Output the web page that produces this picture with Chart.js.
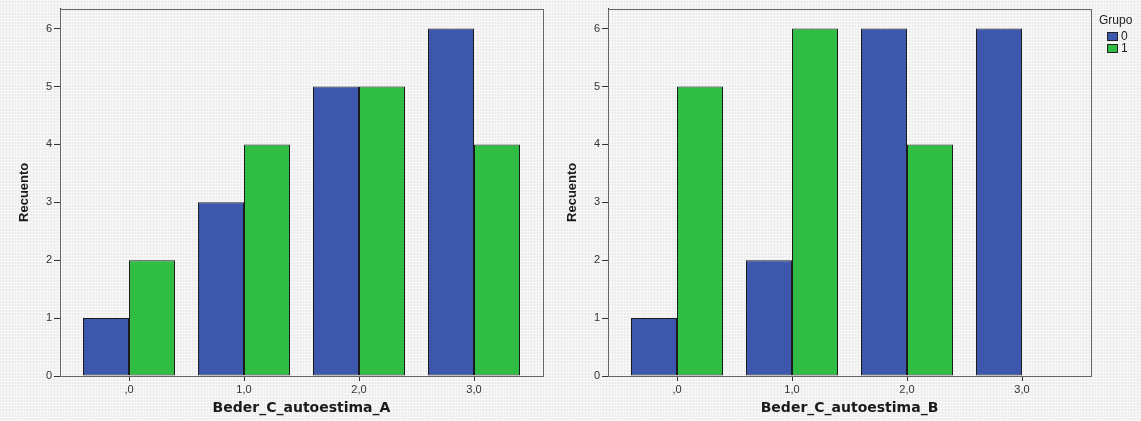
<!DOCTYPE html>
<html>
<head>
<meta charset="utf-8">
<script src="https://cdn.jsdelivr.net/npm/chart.js@4/dist/chart.umd.min.js"></script>
<style>
  html, body { margin: 0; padding: 0; }
  body {
    width: 1141px; height: 421px; position: relative; overflow: hidden;
    background-color: #f2f2f2;
    background-image:
      repeating-linear-gradient(0deg, rgba(255,255,255,0.55) 0 1px, transparent 1px 3px),
      repeating-linear-gradient(90deg, rgba(0,0,0,0.035) 0 1px, transparent 1px 3px);
    font-family: "Liberation Sans", Arial, sans-serif;
  }
  .panel { position: absolute; top: 0; height: 421px; }
  #panelA { left: 0; width: 570px; }
  #panelB { left: 548px; width: 593px; }
  #legend { position: absolute; left: 1099px; top: 13px; font-size: 12px; color: #222; }
  #legend .title { margin-bottom: 3px; }
  #legend .row { display: flex; align-items: center; height: 12px; margin-left: 8px; }
  #legend .sw { width: 9px; height: 7px; border: 1px solid #222; margin-right: 3px; }
</style>
</head>
<body>
<div class="panel" id="panelA"><canvas id="chartA"></canvas></div>
<div class="panel" id="panelB"><canvas id="chartB"></canvas></div>
<div id="legend"></div>

<script>
// Category positions and their printed labels
const xValues = [0, 1, 2, 3];
const xTickLabels = [',0', '1,0', '2,0', '3,0'];
const yTicks = [0, 1, 2, 3, 4, 5, 6];

// Counts per group for Beder_C_autoestima_A
const countsA_g0 = [1, 3, 5, 6];
const countsA_g1 = [2, 4, 5, 4];

// Counts per group for Beder_C_autoestima_B (no group 1 cases at 3,0)
const countsB_g0 = [1, 2, 6, 6];
const countsB_g1 = [5, 6, 4, null];

const groupNames = ['0', '1'];
const groupColors = ['#3d57ad', '#2fbd43'];

const tickFont = { family: '"Liberation Sans", Arial, sans-serif', size: 11 };

// Frame around the plot area (top and right edges; axes draw the rest)
const frame = {
  id: 'frame',
  afterDraw(chart) {
    const { ctx, chartArea: a } = chart;
    ctx.save();
    ctx.strokeStyle = '#666';
    ctx.lineWidth = 1;
    ctx.strokeRect(Math.round(a.left) + 0.5, Math.round(a.top) + 0.5,
                   Math.round(a.right - a.left), Math.round(a.bottom - a.top));
    ctx.restore();
  }
};

function makeChart(canvasId, g0, g1, xTitle, rightPad, width) {
  const toPoints = arr => arr.map((v, i) => ({ x: xValues[i], y: v }));
  const canvas = document.getElementById(canvasId);
  canvas.width = width; canvas.height = 421;
  return new Chart(canvas, {
    type: 'bar',
    data: {
      datasets: [
        { label: groupNames[0], data: toPoints(g0), backgroundColor: groupColors[0],
          borderColor: '#1c1c1c', borderWidth: 1, borderSkipped: false },
        { label: groupNames[1], data: toPoints(g1), backgroundColor: groupColors[1],
          borderColor: '#1c1c1c', borderWidth: 1, borderSkipped: false }
      ]
    },
    options: {
      responsive: false,
      animation: false,
      categoryPercentage: 0.8,
      barPercentage: 1.0,
      layout: { padding: { left: 0, top: 8, right: rightPad, bottom: 0 } },
      plugins: { legend: { display: false }, tooltip: { enabled: false } },
      scales: {
        x: {
          type: 'linear',
          offset: false,
          min: -0.6, max: 3.6,
          afterBuildTicks: s => { s.ticks = xValues.map(v => ({ value: v })); },
          afterFit: s => { s.height = 45; },
          grid: { offset: false, drawOnChartArea: false, drawTicks: true, tickLength: 5, color: '#333' },
          border: { display: true, color: '#333', width: 1 },
          ticks: {
            color: '#333', font: tickFont, padding: 2, maxRotation: 0, autoSkip: false,
            callback: v => xTickLabels[xValues.indexOf(v)]
          },
          title: {
            display: true, text: xTitle, color: '#1a1a1a',
            font: { family: '"DejaVu Sans", Verdana, sans-serif', size: 14, weight: 'bold' },
            padding: { top: 0, bottom: 4 }
          }
        },
        y: {
          min: 0, max: 6.345,
          afterBuildTicks: s => { s.ticks = yTicks.map(v => ({ value: v })); },
          afterFit: s => { s.width = 60; },
          grid: { drawOnChartArea: false, drawTicks: true, tickLength: 6, color: '#333' },
          border: { display: true, color: '#333', width: 1 },
          ticks: { color: '#333', font: tickFont, padding: 2, callback: v => String(v) },
          title: {
            display: true, text: 'Recuento', color: '#1a1a1a',
            font: { family: '"Liberation Sans", Arial, sans-serif', size: 13, weight: 'bold' },
            padding: { top: 17, bottom: 0 }
          }
        }
      }
    },
    plugins: [frame]
  });
}

makeChart('chartA', countsA_g0, countsA_g1, 'Beder_C_autoestima_A', 27, 570);
makeChart('chartB', countsB_g0, countsB_g1, 'Beder_C_autoestima_B', 50, 593);

// Legend for the group series
const legend = document.getElementById('legend');
legend.innerHTML = '<div class="title">Grupo</div>' + groupNames.map((n, i) =>
  `<div class="row"><span class="sw" style="background:${groupColors[i]}"></span>${n}</div>`).join('');
</script>
</body>
</html>
